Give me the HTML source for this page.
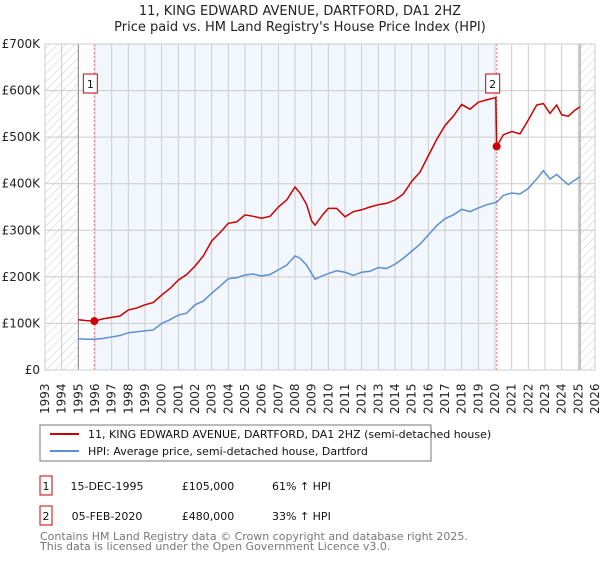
<!DOCTYPE html>
<html><head><meta charset="utf-8"><style>
body{margin:0;background:#fff;font-family:"DejaVu Sans","Liberation Sans",sans-serif;}
svg text{font-family:"DejaVu Sans","Liberation Sans",sans-serif;}
</style></head><body>
<svg id="c" width="600" height="560" xmlns="http://www.w3.org/2000/svg">
<defs><pattern id="hatch" width="6" height="6" patternUnits="userSpaceOnUse" patternTransform="rotate(45)"><line x1="0" y1="0" x2="0" y2="6" stroke="#ccc" stroke-width="1"/></pattern></defs>
<text x="300" y="15" text-anchor="middle" font-size="13" fill="#222">11, KING EDWARD AVENUE, DARTFORD, DA1 2HZ</text>
<text x="300" y="31" text-anchor="middle" font-size="13" fill="#222">Price paid vs. HM Land Registry's House Price Index (HPI)</text>
<g id="plot"></g>
<rect x="40" y="425" width="391" height="36" fill="#fff" stroke="#777"/>
<line x1="50" y1="434" x2="79" y2="434" stroke="#cc0000" stroke-width="2"/>
<text x="88" y="438" font-size="11" fill="#111">11, KING EDWARD AVENUE, DARTFORD, DA1 2HZ (semi-detached house)</text>
<line x1="50" y1="451" x2="79" y2="451" stroke="#5b8fd4" stroke-width="2"/>
<text x="88" y="455" font-size="11" fill="#111">HPI: Average price, semi-detached house, Dartford</text>
<g font-size="11" fill="#111">
<rect x="40" y="476" width="12" height="19" fill="#fff" stroke="#cc0000"/>
<text x="46" y="490" text-anchor="middle">1</text>
<text x="107" y="490" text-anchor="middle">15-DEC-1995</text>
<text x="208" y="490" text-anchor="middle">£105,000</text>
<text x="272" y="490">61% ↑ HPI</text>
<rect x="40" y="506" width="12" height="19" fill="#fff" stroke="#cc0000"/>
<text x="46" y="520" text-anchor="middle">2</text>
<text x="107" y="520" text-anchor="middle">05-FEB-2020</text>
<text x="208" y="520" text-anchor="middle">£480,000</text>
<text x="272" y="520">33% ↑ HPI</text>
</g>
<text x="40" y="540" font-size="11" fill="#777">Contains HM Land Registry data © Crown copyright and database right 2025.</text>
<text x="40" y="550" font-size="11" fill="#777">This data is licensed under the Open Government Licence v3.0.</text>
</svg>
<script>
const yTicks=[0,100000,200000,300000,400000,500000,600000,700000];
const yTickLabels=["£0","£100K","£200K","£300K","£400K","£500K","£600K","£700K"];
const years=[1993,1994,1995,1996,1997,1998,1999,2000,2001,2002,2003,2004,2005,2006,2007,2008,2009,2010,2011,2012,2013,2014,2015,2016,2017,2018,2019,2020,2021,2022,2023,2024,2025,2026];
const saleDates=[1995.96,2020.1];
const salePrices=[105000,480000];
const hpiT=[
1995.0,1995.5,1996.0,1996.5,1997.0,1997.5,1998.0,1998.5,1999.0,1999.5,
2000.0,2000.5,2001.0,2001.5,2002.0,2002.5,2003.0,2003.5,2004.0,2004.5,
2005.0,2005.5,2006.0,2006.5,2007.0,2007.5,2008.0,2008.3,2008.7,2009.2,
2009.7,2010.0,2010.5,2011.0,2011.5,2012.0,2012.5,2013.0,2013.5,2014.0,
2014.5,2015.0,2015.5,2016.0,2016.5,2017.0,2017.5,2018.0,2018.5,2019.0,
2019.5,2020.1,2020.5,2021.0,2021.5,2022.0,2022.5,2022.9,2023.3,2023.7,
2024.0,2024.4,2024.8,2025.1];
const hpiV=[
67,66,66,68,71,74,80,82,84,86,
100,108,118,122,140,148,165,180,196,198,
204,206,202,205,215,225,245,240,225,195,
203,207,213,210,203,210,212,220,218,227,
240,255,270,290,310,325,333,345,340,348,
355,360,375,380,378,390,410,428,410,420,
410,398,408,415];
const priceT=[
1995.0,1995.5,1995.96,1996.5,1997.0,1997.5,1998.0,1998.5,1999.0,1999.5,
2000.0,2000.5,2001.0,2001.5,2002.0,2002.5,2003.0,2003.5,2004.0,2004.5,
2005.0,2005.5,2006.0,2006.5,2007.0,2007.5,2008.0,2008.3,2008.7,2009.0,
2009.2,2009.7,2010.0,2010.5,2011.0,2011.5,2012.0,2012.5,2013.0,2013.5,
2014.0,2014.5,2015.0,2015.5,2016.0,2016.5,2017.0,2017.5,2018.0,2018.5,
2019.0,2019.5,2020.05,2020.1,2020.5,2021.0,2021.5,2022.0,2022.5,2022.9,
2023.3,2023.7,2024.0,2024.4,2024.8,2025.1];
const priceV=[
108,106,105,110,113,116,129,133,140,145,
161,175,193,205,223,245,277,295,315,318,
333,330,326,330,350,365,393,380,355,320,
311,335,347,347,329,340,344,350,355,358,
365,378,405,425,460,495,525,545,570,560,
575,580,585,480,505,512,507,537,569,572,
551,569,548,545,558,565];
const X0=45,X1=595,Y0=370,Y1=44,T0=1993,T1=2026,VMAX=700000;
const xs=t=>X0+(t-T0)/(T1-T0)*(X1-X0);
const ys=v=>Y0-v/VMAX*(Y0-Y1);
const NS="http://www.w3.org/2000/svg";
const g=document.getElementById('plot');
function mk(tag,attrs,parent){const e=document.createElementNS(NS,tag);for(const k in attrs)e.setAttribute(k,attrs[k]);(parent||g).appendChild(e);return e;}
let e;
e=mk('rect',{x:xs(saleDates[0]),y:Y1,width:xs(saleDates[1])-xs(saleDates[0]),height:Y0-Y1,fill:'#f2f6fd'});


e=mk('rect',{x:X0,y:Y1,width:xs(1995)-X0,height:Y0-Y1,fill:'url(#hatch)'});


e=mk('rect',{x:xs(2025.1),y:Y1,width:X1-xs(2025.1),height:Y0-Y1,fill:'url(#hatch)'});


years.forEach(y=>{
 e=mk('line',{x1:xs(y),y1:Y1,x2:xs(y),y2:Y0,stroke:'#ccc','stroke-width':1});
 
 
 e=mk('text',{transform:`translate(${xs(y)+4},414) rotate(-90)`,'font-size':12,fill:'#222'});
 e.textContent=y;
 
 
});
yTicks.forEach((v,i)=>{
 e=mk('line',{x1:X0,y1:ys(v),x2:X1,y2:ys(v),stroke:'#ccc','stroke-width':1});
 
 
 e=mk('text',{x:40,y:ys(v)+4,'text-anchor':'end','font-size':12,fill:'#222'});
 e.textContent=yTickLabels[i];
 
 
});
e=mk('line',{x1:xs(1995),y1:Y1,x2:xs(1995),y2:Y0,stroke:'#888','stroke-width':1});


e=mk('line',{x1:xs(2025.1),y1:Y1,x2:xs(2025.1),y2:Y0,stroke:'#888','stroke-width':1});


saleDates.forEach((d,i)=>{
 e=mk('line',{x1:xs(d),y1:Y1,x2:xs(d),y2:Y0,stroke:'#f08080','stroke-width':1,'stroke-dasharray':'2,2'});
 
 
});
e=mk('polyline',{points:hpiT.map((t,i)=>xs(t)+','+ys(hpiV[i]*1000)).join(' '),fill:'none',stroke:'#5b8fd4','stroke-width':1.5});


e=mk('polyline',{points:priceT.map((t,i)=>xs(t)+','+ys(priceV[i]*1000)).join(' '),fill:'none',stroke:'#cc0000','stroke-width':1.5});


saleDates.forEach((d,i)=>{
 e=mk('circle',{cx:xs(d),cy:ys(salePrices[i]),r:4,fill:'#cc0000'});
 
 
 const bx=xs(d)-11;
 e=mk('rect',{x:bx,y:74,width:14,height:19,fill:'#fff',stroke:'#cc0000'});
 
 
 e=mk('text',{x:bx+7,y:88,'text-anchor':'middle','font-size':11,fill:'#111'});
 e.textContent=String(i+1);
 
 
});
e=mk('rect',{x:X0,y:Y1,width:X1-X0,height:Y0-Y1,fill:'none',stroke:'#ccc'});


</script>
</body></html>
